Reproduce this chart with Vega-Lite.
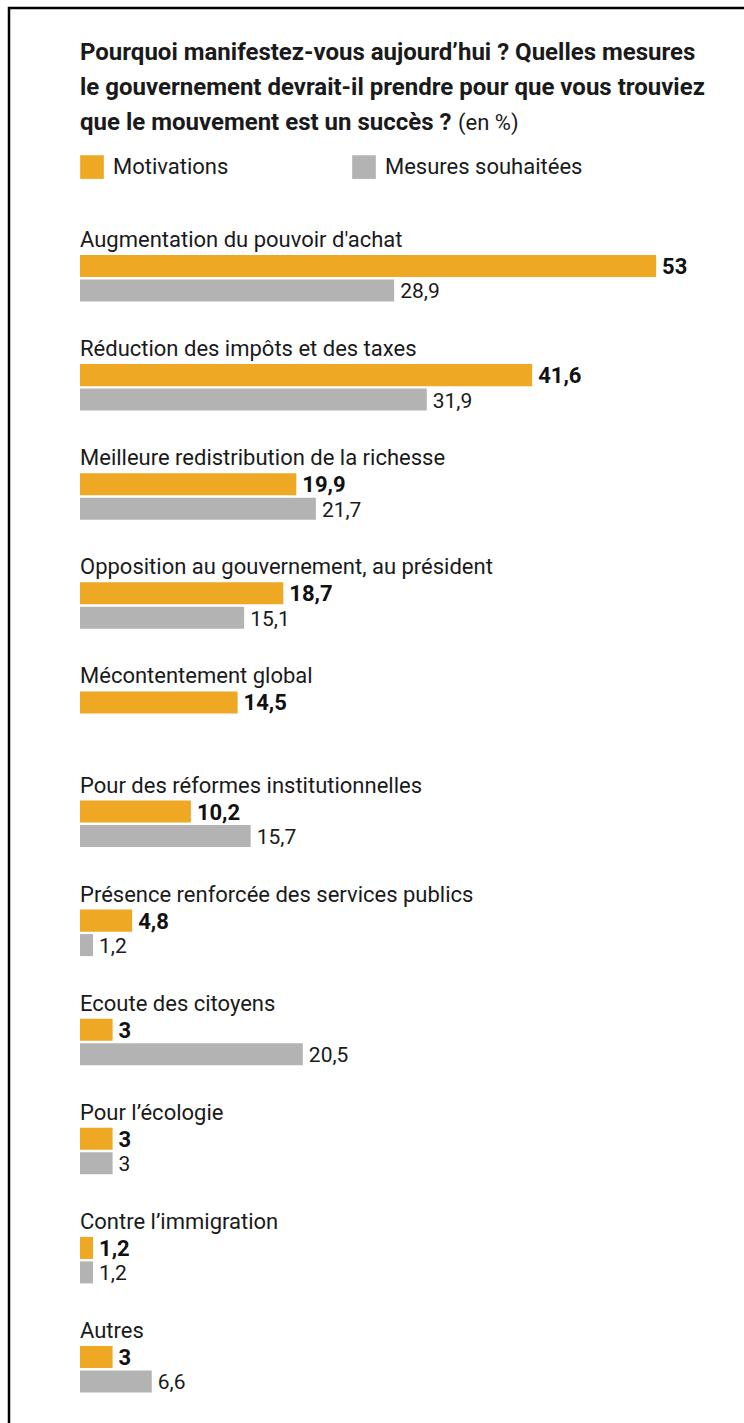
{
  "$schema": "https://vega.github.io/schema/vega-lite/v6.json",
  "autosize": {"type": "none"},
  "padding": {"left": 9, "top": 8, "right": -10, "bottom": -10},
  "width": 745,
  "height": 1425,
  "background": "white",
  "title": {
    "text": ["Pourquoi manifestez-vous aujourd’hui ? Quelles mesures", "le gouvernement devrait-il prendre pour que vous trouviez", "que le mouvement est un succès ?"],
    "subtitle": "(en %)",
    "anchor": "start",
    "frame": "group",
    "orient": "top",
    "baseline": "top",
    "offset": -127,
    "dx": 71,
    "font": "Roboto",
    "fontSize": 24,
    "fontWeight": "bold",
    "lineHeight": 35,
    "color": "#1a1a1a",
    "subtitleFont": "Roboto",
    "subtitleFontSize": 22,
    "subtitleColor": "#1a1a1a",
    "subtitlePadding": -22,
    "encode": {"subtitle": {"update": {"dx": {"value": 449}}}}
  },
  "data": {
    "values": [
      {"categorie": "Augmentation du pouvoir d'achat", "serie": "Motivations", "valeur": 53},
      {"categorie": "Augmentation du pouvoir d'achat", "serie": "Mesures souhaitées", "valeur": 28.9},
      {"categorie": "Réduction des impôts et des taxes", "serie": "Motivations", "valeur": 41.6},
      {"categorie": "Réduction des impôts et des taxes", "serie": "Mesures souhaitées", "valeur": 31.9},
      {"categorie": "Meilleure redistribution de la richesse", "serie": "Motivations", "valeur": 19.9},
      {"categorie": "Meilleure redistribution de la richesse", "serie": "Mesures souhaitées", "valeur": 21.7},
      {"categorie": "Opposition au gouvernement, au président", "serie": "Motivations", "valeur": 18.7},
      {"categorie": "Opposition au gouvernement, au président", "serie": "Mesures souhaitées", "valeur": 15.1},
      {"categorie": "Mécontentement global", "serie": "Motivations", "valeur": 14.5},
      {"categorie": "Pour des réformes institutionnelles", "serie": "Motivations", "valeur": 10.2},
      {"categorie": "Pour des réformes institutionnelles", "serie": "Mesures souhaitées", "valeur": 15.7},
      {"categorie": "Présence renforcée des services publics", "serie": "Motivations", "valeur": 4.8},
      {"categorie": "Présence renforcée des services publics", "serie": "Mesures souhaitées", "valeur": 1.2},
      {"categorie": "Ecoute des citoyens", "serie": "Motivations", "valeur": 3},
      {"categorie": "Ecoute des citoyens", "serie": "Mesures souhaitées", "valeur": 20.5},
      {"categorie": "Pour l’écologie", "serie": "Motivations", "valeur": 3},
      {"categorie": "Pour l’écologie", "serie": "Mesures souhaitées", "valeur": 3},
      {"categorie": "Contre l’immigration", "serie": "Motivations", "valeur": 1.2},
      {"categorie": "Contre l’immigration", "serie": "Mesures souhaitées", "valeur": 1.2},
      {"categorie": "Autres", "serie": "Motivations", "valeur": 3},
      {"categorie": "Autres", "serie": "Mesures souhaitées", "valeur": 6.6}
    ]
  },
  "encoding": {
    "y": {
      "field": "categorie",
      "type": "nominal",
      "axis": null,
      "sort": ["Augmentation du pouvoir d'achat", "Réduction des impôts et des taxes", "Meilleure redistribution de la richesse", "Opposition au gouvernement, au président", "Mécontentement global", "Pour des réformes institutionnelles", "Présence renforcée des services publics", "Ecoute des citoyens", "Pour l’écologie", "Contre l’immigration", "Autres"],
      "scale": {"range": [207, 1407.1], "paddingInner": 0, "paddingOuter": 0}
    }
  },
  "layer": [
    {
      "mark": {"type": "bar"},
      "encoding": {
        "x": {"field": "valeur", "type": "quantitative", "axis": null, "scale": {"domain": [-6.532, 62.005], "nice": false, "zero": false}},
        "yOffset": {"field": "serie", "type": "nominal", "sort": ["Motivations", "Mesures souhaitées"], "scale": {"range": [40, 86.5], "paddingInner": 0.1, "paddingOuter": 0}},
        "color": {
          "field": "serie",
          "type": "nominal",
          "scale": {"domain": ["Motivations", "Mesures souhaitées"], "range": ["#EFA823", "#B3B3B3"]},
          "legend": {
            "title": null,
            "orient": "none",
            "legendX": 71,
            "legendY": 147,
            "direction": "horizontal",
            "columns": 2,
            "gridAlign": "all",
            "columnPadding": 41,
            "symbolType": "square",
            "symbolSize": 560,
            "symbolStrokeWidth": 0,
            "labelFont": "Roboto",
            "labelFontSize": 22,
            "labelColor": "#1a1a1a",
            "labelOffset": 9,
            "labelLimit": 400
          }
        }
      }
    },
    {
      "transform": [{"filter": "datum.serie === 'Motivations'"}],
      "mark": {"type": "text", "align": "left", "baseline": "alphabetic", "dy": -22.5, "font": "Roboto", "fontSize": 22, "color": "#1a1a1a"},
      "encoding": {
        "x": {"datum": 0, "type": "quantitative"},
        "text": {"field": "categorie"}
      }
    },
    {
      "transform": [{"filter": "datum.serie === 'Motivations'"}],
      "mark": {"type": "text", "align": "left", "baseline": "middle", "dx": 6, "dy": 1, "font": "Roboto", "fontWeight": "bold", "fontSize": 22, "color": "#111"},
      "encoding": {
        "x": {"field": "valeur", "type": "quantitative"},
        "yOffset": {"field": "serie", "type": "nominal", "sort": ["Motivations", "Mesures souhaitées"]},
        "text": {"field": "valeur", "type": "quantitative", "format": ".1~f"}
      }
    },
    {
      "transform": [{"filter": "datum.serie === 'Mesures souhaitées'"}],
      "mark": {"type": "text", "align": "left", "baseline": "middle", "dx": 6, "dy": 2, "font": "Roboto", "fontSize": 21, "color": "#1a1a1a"},
      "encoding": {
        "x": {"field": "valeur", "type": "quantitative"},
        "yOffset": {"field": "serie", "type": "nominal", "sort": ["Motivations", "Mesures souhaitées"]},
        "text": {"field": "valeur", "type": "quantitative", "format": ".1~f"}
      }
    }
  ],
  "config": {
    "view": {"stroke": "#000", "strokeWidth": 2.5},
    "locale": {"number": {"decimal": ",", "thousands": " ", "grouping": [3], "currency": ["", " €"]}}
  }
}
